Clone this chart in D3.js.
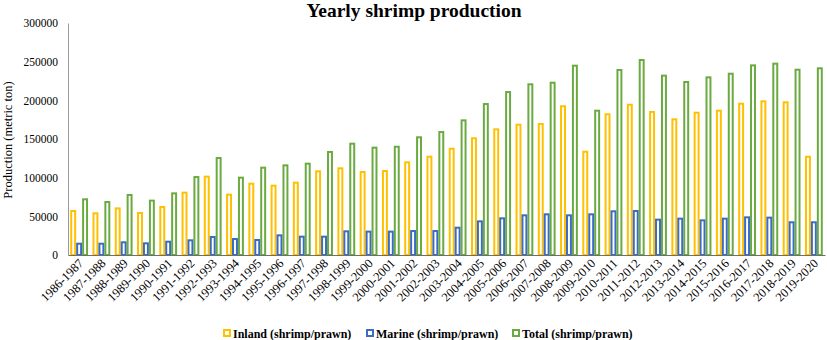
<!DOCTYPE html>
<html>
<head>
<meta charset="utf-8">
<script src="https://cdn.jsdelivr.net/npm/d3@7"></script>
<style>
  body { margin: 0; background: #fff; }
  svg, svg text { font-family: "Liberation Serif", "Times New Roman", serif; }
</style>
</head>
<body>
<svg id="chart"></svg>
<script>
var years = ["1986-1987","1987-1988","1988-1989","1989-1990","1990-1991","1991-1992","1992-1993",
  "1993-1994","1994-1995","1995-1996","1996-1997","1997-1998","1998-1999","1999-2000","2000-2001",
  "2001-2002","2002-2003","2003-2004","2004-2005","2005-2006","2006-2007","2007-2008","2008-2009",
  "2009-2010","2010-2011","2011-2012","2012-2013","2013-2014","2014-2015","2015-2016","2016-2017",
  "2017-2018","2018-2019","2019-2020"];

var inland = [58200,55200,61600,55600,63400,81900,102600,79300,93500,90900,94800,109500,113400,108600,
  109900,121100,128400,138700,152200,163800,169800,170700,193600,134900,183200,195600,186200,176700,
  185300,187900,196900,200000,198700,128400];
var marine = [15900,15900,17700,16400,18500,20300,24600,22000,20700,26700,25000,25000,31900,31500,
  31500,32300,32300,36600,44800,48700,52600,53900,52600,53900,57800,58200,47000,48300,46100,48300,
  50000,49600,43600,43600];
var total = [73300,69800,78900,71600,81000,102100,126700,101300,114200,117200,119400,134500,145200,
  140100,141300,153500,160300,175400,196500,212000,222000,224100,246100,187900,240500,253400,233200,
  225000,231000,235700,246500,248700,240900,242700];

var seriesNames = ["Inland (shrimp/prawn)", "Marine (shrimp/prawn)", "Total (shrimp/prawn)"];
var seriesColors = ["#FFC000", "#3a6bc9", "#6aaa40"];
var yTicks = [0, 50000, 100000, 150000, 200000, 250000, 300000];

var width = 827, height = 340;
var margin = {top: 23, left: 68, right: 2, bottom: 85};
var serif = '"Liberation Serif", "Times New Roman", serif';

var svg = d3.select("#chart")
    .attr("width", width)
    .attr("height", height);

var x0 = d3.scaleBand()
    .domain(years)
    .range([margin.left, width - margin.right])
    .paddingInner(0.2)
    .paddingOuter(0.1);

var x1 = d3.scaleBand()
    .domain(d3.range(3))
    .range([0, x0.bandwidth()]);

var y = d3.scaleLinear()
    .domain([0, 300000])
    .range([height - margin.bottom, margin.top]);

// title
svg.append("text")
    .attr("x", 414)
    .attr("y", 17)
    .attr("text-anchor", "middle")
    .style("font-family", serif)
    .attr("font-size", 19.5)
    .attr("font-weight", "bold")
    .text("Yearly shrimp production");

// y axis
var yAxis = svg.append("g")
    .attr("transform", `translate(${margin.left},0)`)
    .call(d3.axisLeft(y).tickValues(yTicks).tickSize(0).tickPadding(10).tickFormat(d3.format("d")));
yAxis.attr("font-family", null).style("font-family", serif);
yAxis.select(".domain").attr("stroke", "#9a9a9a");
yAxis.selectAll("text")
    .style("font-family", serif)
    .attr("font-size", 11.5)
    .attr("fill", "#000");

svg.append("text")
    .attr("transform", "translate(12,140) rotate(-90)")
    .attr("text-anchor", "middle")
    .style("font-family", serif)
    .attr("font-size", 12.5)
    .text("Production (metric ton)");

// bars
var rows = years.map(function(yr, i) {
    return {year: yr, values: [inland[i], marine[i], total[i]]};
});

var groups = svg.selectAll(".grp")
    .data(rows)
    .enter().append("g")
    .attr("class", "grp")
    .attr("transform", function(d) { return `translate(${x0(d.year)},0)`; });

groups.selectAll("rect")
    .data(function(d) { return d.values; })
    .enter().append("rect")
    .attr("x", function(d, i) { return x1(i) + 1; })
    .attr("width", x1.bandwidth() - 2)
    .attr("y", function(d) { return y(d) + 1; })
    .attr("height", function(d) { return y(0) - y(d) - 1; })
    .attr("fill", "#fff")
    .attr("stroke", function(d, i) { return seriesColors[i]; })
    .attr("stroke-width", 2);

// x axis
var xAxis = svg.append("g")
    .attr("transform", `translate(0,${y(0)})`)
    .call(d3.axisBottom(x0).tickSize(0).tickPadding(0));
xAxis.attr("font-family", null).style("font-family", serif);
xAxis.select(".domain").attr("stroke", "#6e6e6e").attr("stroke-width", 1.2);
xAxis.selectAll("text")
    .style("font-family", serif)
    .attr("font-size", 12.5)
    .attr("fill", "#000")
    .attr("text-anchor", "end")
    .attr("dy", null)
    .attr("transform", "translate(5,9) rotate(-45)");

// legend
var legendX = [223, 366, 512];
var legend = svg.selectAll(".leg")
    .data(seriesNames)
    .enter().append("g")
    .attr("class", "leg")
    .attr("transform", function(d, i) { return `translate(${legendX[i]},330)`; });

legend.append("rect")
    .attr("x", 1)
    .attr("y", 0)
    .attr("width", 6)
    .attr("height", 6)
    .attr("fill", "#fff")
    .attr("stroke", function(d, i) { return seriesColors[i]; })
    .attr("stroke-width", 2);

legend.append("text")
    .attr("x", 10)
    .attr("y", 8)
    .style("font-family", serif)
    .attr("font-size", 12)
    .attr("font-weight", "bold")
    .text(function(d) { return d; });
</script>
</body>
</html>
